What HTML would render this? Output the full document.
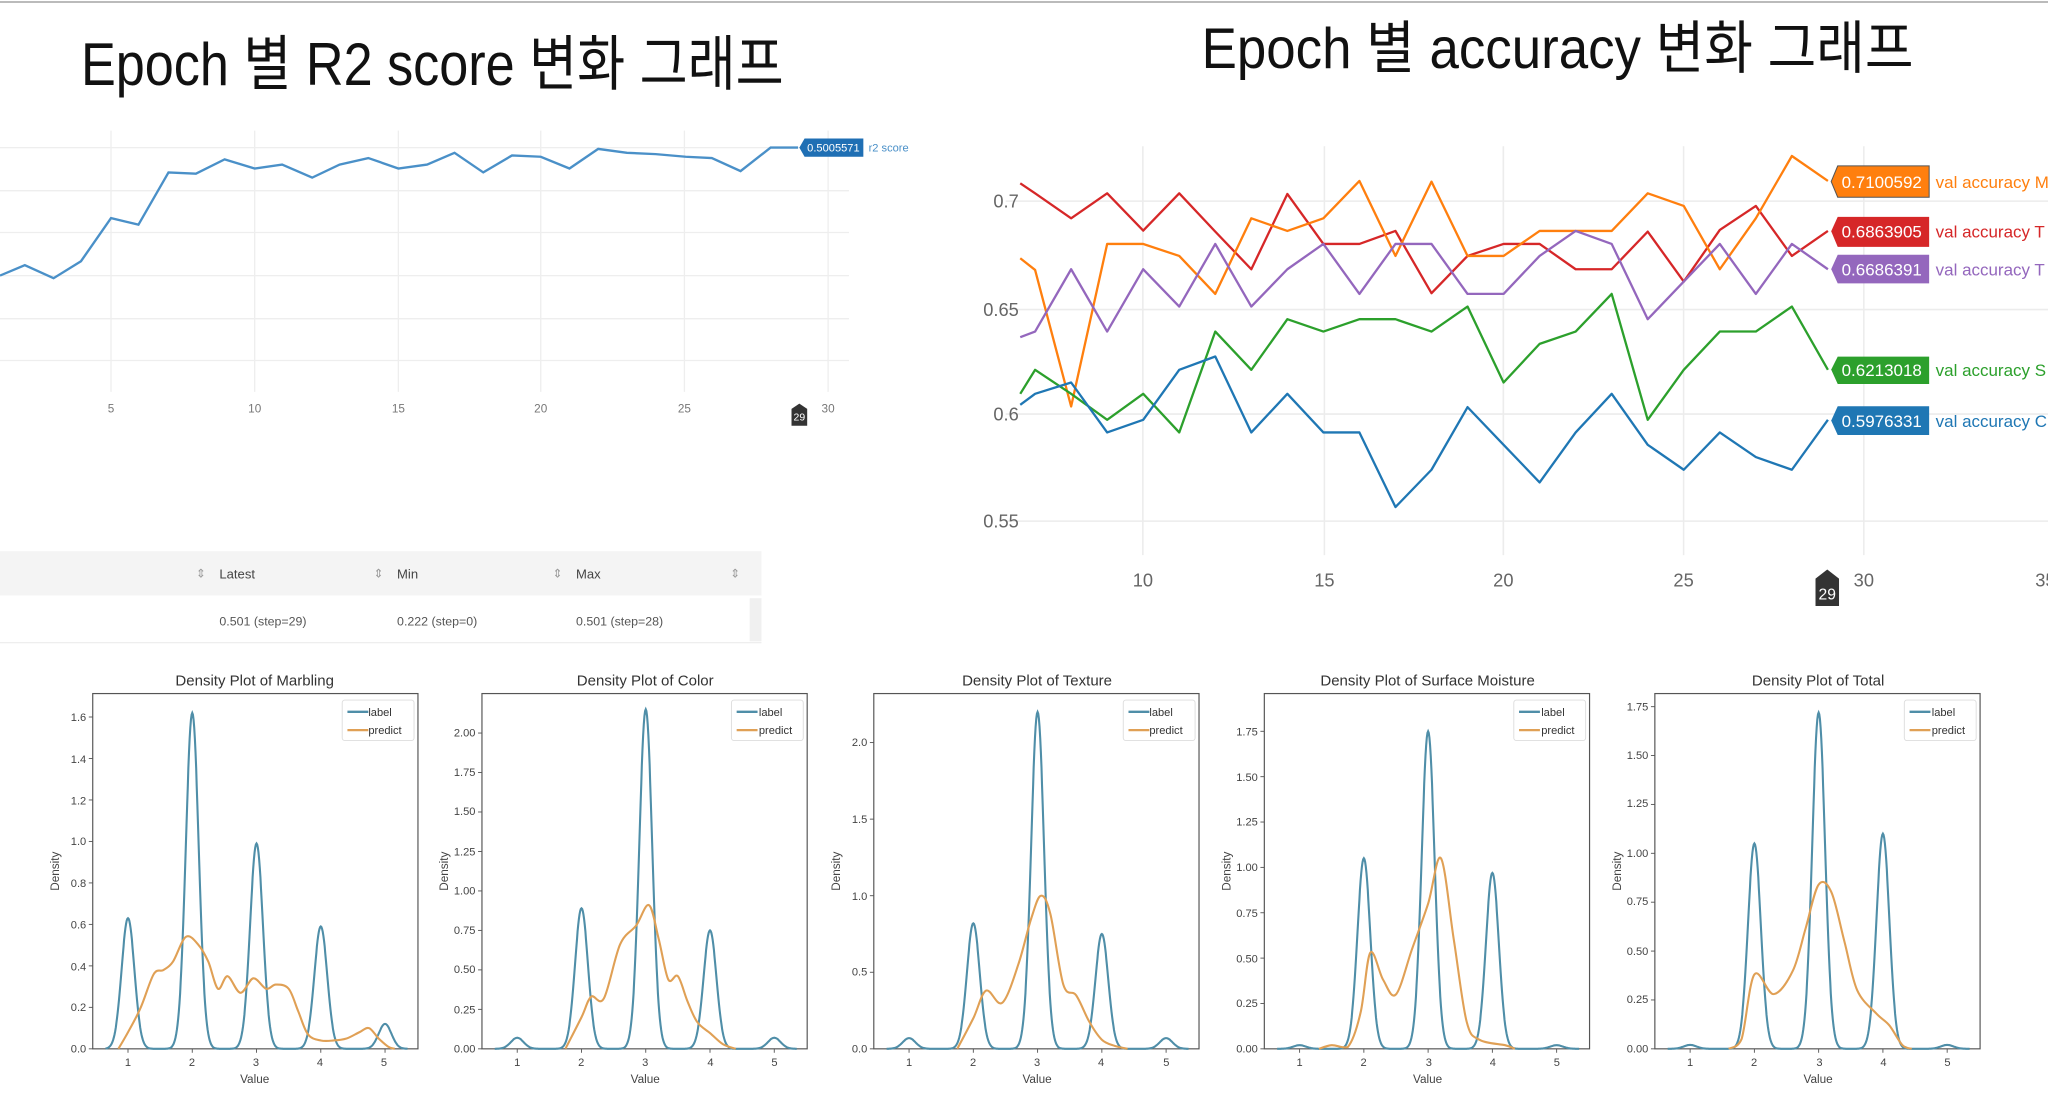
<!DOCTYPE html>
<html><head><meta charset="utf-8"><style>
html,body{margin:0;padding:0;background:#fff;}
svg{display:block;}
text{font-family:"Liberation Sans","Noto Sans CJK KR",sans-serif;}
</style></head><body>
<svg id="s" width="2048" height="1105" viewBox="0 0 1568 846" preserveAspectRatio="none" xmlns="http://www.w3.org/2000/svg">
<line x1="0" y1="1.5" x2="1568" y2="1.5" stroke="#bbb" stroke-width="1.5"/>
<text x="62" y="65" font-size="46" textLength="538" lengthAdjust="spacingAndGlyphs" fill="#111">Epoch 별 R2 score 변화 그래프</text>
<text x="920" y="52" font-size="44" textLength="545" lengthAdjust="spacingAndGlyphs" fill="#111">Epoch 별 accuracy 변화 그래프</text>

<!-- R2 chart -->
<g stroke="#eee" stroke-width="1">
<line x1="0" y1="113" x2="650" y2="113"/><line x1="0" y1="146" x2="650" y2="146"/><line x1="0" y1="178" x2="650" y2="178"/><line x1="0" y1="211" x2="650" y2="211"/><line x1="0" y1="244" x2="650" y2="244"/><line x1="0" y1="276" x2="650" y2="276"/>
<line x1="85" y1="100" x2="85" y2="300"/><line x1="195" y1="100" x2="195" y2="300"/><line x1="305" y1="100" x2="305" y2="300"/><line x1="414" y1="100" x2="414" y2="300"/><line x1="524" y1="100" x2="524" y2="300"/><line x1="634" y1="100" x2="634" y2="300"/>
</g>
<polyline fill="none" stroke="#4a90c8" stroke-width="1.8" points="0,211 19,203 41,213 62,200 85,167 106,172 129,132 150,133 172,122 195,129 216,126 239,136 260,126 282,121 305,129 327,126 348,117 370,132 392,119 414,120 436,129 458,114 480,117 502,118 525,120 545,121 567,131 590,113 611,113"/>
<polygon points="612,113 616,106 661,106 661,120 616,120" fill="#1f6fb4"/>
<text x="618" y="116" font-size="8.5" fill="#fff">0.5005571</text>
<text x="665" y="116" font-size="8.5" fill="#4a90c8">r2 score</text>
<g font-size="9" fill="#777" text-anchor="middle">
<text x="85" y="316">5</text><text x="195" y="316">10</text><text x="305" y="316">15</text><text x="414" y="316">20</text><text x="524" y="316">25</text><text x="634" y="316">30</text>
</g>
<polygon points="612,309 618,313 618,326 606,326 606,313" fill="#333"/>
<text x="612" y="322" font-size="8" fill="#fff" text-anchor="middle">29</text>

<!-- table -->
<rect x="0" y="422" width="583" height="34" fill="#f4f4f4"/>
<rect x="0" y="456" width="583" height="36" fill="#fff"/>
<line x1="0" y1="492" x2="583" y2="492" stroke="#eee"/>
<g font-size="10" fill="#444">
<text x="168" y="443">Latest</text><text x="304" y="443">Min</text><text x="441" y="443">Max</text>
</g>
<g font-size="9" fill="#999"><text x="150" y="442">⇕</text><text x="286" y="442">⇕</text><text x="423" y="442">⇕</text><text x="559" y="442">⇕</text></g>
<g font-size="9.5" fill="#555">
<text x="168" y="479">0.501 (step=29)</text><text x="304" y="479">0.222 (step=0)</text><text x="441" y="479">0.501 (step=28)</text>
</g>
<rect x="574" y="458" width="9" height="33" fill="#f0f0f0"/>

<!-- accuracy chart -->
<g stroke="#ececec" stroke-width="1.2">
<line x1="770" y1="154" x2="1568" y2="154"/><line x1="770" y1="237" x2="1568" y2="237"/><line x1="770" y1="317" x2="1568" y2="317"/><line x1="770" y1="399" x2="1568" y2="399"/>
<line x1="875" y1="112" x2="875" y2="425"/><line x1="1014" y1="112" x2="1014" y2="425"/><line x1="1151" y1="112" x2="1151" y2="425"/><line x1="1289" y1="112" x2="1289" y2="425"/><line x1="1427" y1="112" x2="1427" y2="425"/>
</g>
<g font-size="14" fill="#666" text-anchor="end">
<text x="780" y="159">0.7</text><text x="780" y="242">0.65</text><text x="780" y="322">0.6</text><text x="780" y="404">0.55</text>
</g>
<g font-size="14" fill="#666" text-anchor="middle">
<text x="875" y="449">10</text><text x="1014" y="449">15</text><text x="1151" y="449">20</text><text x="1289" y="449">25</text><text x="1427" y="449">30</text><text x="1566" y="449">35</text>
</g>
<polygon points="1399,436 1408,443 1408,464 1390,464 1390,443" fill="#333"/>
<text x="1399" y="459" font-size="12" fill="#fff" text-anchor="middle">29</text>
<g transform="translate(720,76.6) scale(0.541,0.255)" fill="none" stroke-width="2.3" stroke-linejoin="round">
<polyline vector-effect="non-scaling-stroke" stroke="#d62728" points="113,250 134,280 185,355 236,280 287,392 338,280 389,395 440,508 491,282 542,432 593,432 644,393 695,580 746,468 797,432 848,432 899,508 950,508 1001,395 1052,545 1103,390 1154,318 1205,468 1256,393"/>
<polyline vector-effect="non-scaling-stroke" stroke="#ff7f0e" points="113,475 134,510 185,920 236,432 287,432 338,468 389,582 440,355 491,393 542,355 593,243 644,468 695,245 746,468 797,468 848,393 899,393 950,393 1001,280 1052,318 1103,508 1154,355 1205,168 1256,243"/>
<polyline vector-effect="non-scaling-stroke" stroke="#9467bd" points="113,712 134,695 185,508 236,695 287,508 338,620 389,432 440,620 491,508 542,432 593,582 644,432 695,432 746,582 797,582 848,468 899,393 950,432 1001,658 1052,545 1103,432 1154,582 1205,432 1256,508"/>
<polyline vector-effect="non-scaling-stroke" stroke="#2ca02c" points="113,882 134,810 185,882 236,960 287,882 338,998 389,695 440,810 491,658 542,695 593,658 644,658 695,695 746,620 797,848 848,732 899,695 950,582 1001,960 1052,810 1103,695 1154,695 1205,620 1256,810"/>
<polyline vector-effect="non-scaling-stroke" stroke="#1f77b4" points="113,915 134,882 185,848 236,998 287,960 338,810 389,770 440,998 491,882 542,998 593,998 644,1222 695,1110 746,922 797,1035 848,1148 899,998 950,882 1001,1035 1052,1110 1103,998 1154,1072 1205,1110 1256,960"/>
</g>
<g font-size="13">
<polygon points="1402,139 1407,127 1477,127 1477,151 1407,151" fill="#ff7f0e" stroke="#555" stroke-width="0.8"/>
<text x="1410" y="144" fill="#fff" font-size="13">0.7100592</text><text x="1482" y="144" fill="#ff7f0e">val accuracy M</text>
<polygon points="1402,177 1407,166 1477,166 1477,189 1407,189" fill="#d62728"/>
<text x="1410" y="182" fill="#fff">0.6863905</text><text x="1482" y="182" fill="#d62728">val accuracy T</text>
<polygon points="1402,206 1407,195 1477,195 1477,217 1407,217" fill="#9467bd"/>
<text x="1410" y="211" fill="#fff">0.6686391</text><text x="1482" y="211" fill="#9467bd">val accuracy T</text>
<polygon points="1402,283 1407,273 1477,273 1477,294 1407,294" fill="#2ca02c"/>
<text x="1410" y="288" fill="#fff">0.6213018</text><text x="1482" y="288" fill="#2ca02c">val accuracy S</text>
<polygon points="1402,322 1407,311 1477,311 1477,333 1407,333" fill="#1f77b4"/>
<text x="1410" y="327" fill="#fff">0.5976331</text><text x="1482" y="327" fill="#1f77b4">val accuracy C</text>
</g>

<!-- density panels -->
<g id="dens"></g>
<g font-size="11.5" fill="#333" text-anchor="middle">
<text x="195" y="525">Density Plot of Marbling</text>
<text x="494" y="525">Density Plot of Color</text>
<text x="794" y="525">Density Plot of Texture</text>
<text x="1093" y="525">Density Plot of Surface Moisture</text>
<text x="1392" y="525">Density Plot of Total</text>
</g>
<g font-size="9" fill="#444" text-anchor="middle">
<text x="195" y="829">Value</text><text x="494" y="829">Value</text><text x="794" y="829">Value</text><text x="1093" y="829">Value</text><text x="1392" y="829">Value</text>
<text transform="translate(45,667) rotate(-90)">Density</text>
<text transform="translate(343,667) rotate(-90)">Density</text>
<text transform="translate(643,667) rotate(-90)">Density</text>
<text transform="translate(942,667) rotate(-90)">Density</text>
<text transform="translate(1241,667) rotate(-90)">Density</text>
</g>
<g font-size="8.5" fill="#444">
<g text-anchor="middle" id="xt">
<text x="98" y="816">1</text><text x="147" y="816">2</text><text x="196" y="816">3</text><text x="245" y="816">4</text><text x="294" y="816">5</text>
<text x="396" y="816">1</text><text x="445" y="816">2</text><text x="494" y="816">3</text><text x="544" y="816">4</text><text x="593" y="816">5</text>
<text x="696" y="816">1</text><text x="745" y="816">2</text><text x="794" y="816">3</text><text x="843" y="816">4</text><text x="893" y="816">5</text>
<text x="995" y="816">1</text><text x="1044" y="816">2</text><text x="1094" y="816">3</text><text x="1143" y="816">4</text><text x="1192" y="816">5</text>
<text x="1294" y="816">1</text><text x="1343" y="816">2</text><text x="1393" y="816">3</text><text x="1442" y="816">4</text><text x="1491" y="816">5</text>
</g>
<g text-anchor="end">
<text x="66" y="806">0.0</text><text x="66" y="774">0.2</text><text x="66" y="743">0.4</text><text x="66" y="711">0.6</text><text x="66" y="679">0.8</text><text x="66" y="647">1.0</text><text x="66" y="616">1.2</text><text x="66" y="584">1.4</text><text x="66" y="552">1.6</text>
<text x="364" y="806">0.00</text><text x="364" y="776">0.25</text><text x="364" y="745">0.50</text><text x="364" y="715">0.75</text><text x="364" y="685">1.00</text><text x="364" y="655">1.25</text><text x="364" y="624">1.50</text><text x="364" y="594">1.75</text><text x="364" y="564">2.00</text>
<text x="664" y="806">0.0</text><text x="664" y="747">0.5</text><text x="664" y="689">1.0</text><text x="664" y="630">1.5</text><text x="664" y="571">2.0</text>
<text x="963" y="806">0.00</text><text x="963" y="771">0.25</text><text x="963" y="737">0.50</text><text x="963" y="702">0.75</text><text x="963" y="667">1.00</text><text x="963" y="632">1.25</text><text x="963" y="598">1.50</text><text x="963" y="563">1.75</text>
<text x="1262" y="806">0.00</text><text x="1262" y="768">0.25</text><text x="1262" y="731">0.50</text><text x="1262" y="693">0.75</text><text x="1262" y="656">1.00</text><text x="1262" y="618">1.25</text><text x="1262" y="581">1.50</text><text x="1262" y="544">1.75</text>
</g>
</g>
<g font-size="8.5" fill="#333" id="legs">
<text x="282" y="548">label</text><text x="282" y="562">predict</text>
<text x="581" y="548">label</text><text x="581" y="562">predict</text>
<text x="880" y="548">label</text><text x="880" y="562">predict</text>
<text x="1180" y="548">label</text><text x="1180" y="562">predict</text>
<text x="1479" y="548">label</text><text x="1479" y="562">predict</text>
</g>
</svg>
<script>
(function(){
var NS="http://www.w3.org/2000/svg",g=document.getElementById("dens");
function el(n,a){var e=document.createElementNS(NS,n);for(var k in a)e.setAttribute(k,a[k]);g.appendChild(e);return e;}
var panels=[
{L:71,ymax:1.713,ticks:[0,0.2,0.4,0.6,0.8,1.0,1.2,1.4,1.6],lab:[0.63,1.62,0.99,0.59,0.12],
 pr:[[0.85,0],[1.0,0.08],[1.2,0.2],[1.4,0.36],[1.55,0.38],[1.7,0.42],[1.9,0.54],[2.1,0.5],[2.25,0.42],[2.4,0.29],[2.55,0.35],[2.75,0.27],[2.95,0.34],[3.15,0.29],[3.3,0.31],[3.5,0.29],[3.65,0.18],[3.8,0.07],[4.0,0.04],[4.2,0.04],[4.4,0.05],[4.6,0.08],[4.75,0.1],[4.9,0.05],[5.05,0.01],[5.15,0]]},
{L:369,ymax:2.25,ticks:[0,0.25,0.5,0.75,1,1.25,1.5,1.75,2],lab:[0.07,0.89,2.15,0.75,0.07],
 pr:[[1.75,0],[2.0,0.2],[2.15,0.33],[2.35,0.32],[2.6,0.66],[2.85,0.78],[3.05,0.91],[3.2,0.7],[3.35,0.44],[3.5,0.46],[3.65,0.3],[3.8,0.17],[4.0,0.1],[4.2,0.03],[4.4,0]]},
{L:669,ymax:2.32,ticks:[0,0.5,1,1.5,2],lab:[0.07,0.82,2.2,0.75,0.07],
 pr:[[1.75,0],[2.0,0.2],[2.2,0.38],[2.45,0.3],[2.7,0.55],[2.9,0.85],[3.05,1.0],[3.2,0.88],[3.4,0.42],[3.6,0.35],[3.8,0.18],[4.0,0.06],[4.2,0.02],[4.4,0]]},
{L:968,ymax:1.958,ticks:[0,0.25,0.5,0.75,1,1.25,1.5,1.75],lab:[0.02,1.05,1.75,0.97,0.02],
 pr:[[1.3,0],[1.5,0.02],[1.75,0.01],[1.95,0.2],[2.1,0.53],[2.3,0.38],[2.5,0.3],[2.75,0.55],[3.0,0.8],[3.2,1.05],[3.4,0.6],[3.6,0.15],[3.8,0.05],[4.2,0.02],[4.35,0]]},
{L:1267,ymax:1.817,ticks:[0,0.25,0.5,0.75,1,1.25,1.5,1.75],lab:[0.02,1.05,1.72,1.1,0.02],
 pr:[[1.6,0],[1.8,0.05],[2.0,0.38],[2.3,0.28],[2.6,0.4],[2.8,0.62],[3.0,0.84],[3.2,0.8],[3.4,0.55],[3.6,0.3],[3.9,0.18],[4.1,0.12],[4.3,0.02],[4.45,0]]}
];
panels.forEach(function(p){
 var L=p.L,T=531,B=803,W=249,sx=49.2,sy=272/p.ymax;
 function X(x){return L+27+(x-1)*sx;} function Y(y){return B-y*sy;}
 el("rect",{x:L,y:T,width:W,height:B-T,fill:"none",stroke:"#555","stroke-width":0.9});
 for(var i=1;i<=5;i++)el("line",{x1:X(i),y1:B,x2:X(i),y2:B+3,stroke:"#555","stroke-width":0.7});
 p.ticks.forEach(function(t){el("line",{x1:L-3,y1:Y(t),x2:L,y2:Y(t),stroke:"#555","stroke-width":0.7});});
 var d="";for(var x=0.65;x<=5.35;x+=0.01){var y=0;for(var k=0;k<5;k++){var dx=(x-(k+1))/0.1;y+=p.lab[k]*Math.exp(-0.5*dx*dx);}d+=(d?"L":"M")+X(x).toFixed(1)+","+Y(y).toFixed(1);}
 var pts=p.pr.map(function(q){return [X(q[0]),Y(q[1])];});
 var c="M"+pts[0][0]+","+pts[0][1];
 for(var i=0;i<pts.length-1;i++){var p0=pts[Math.max(0,i-1)],p1=pts[i],p2=pts[i+1],p3=pts[Math.min(pts.length-1,i+2)];
  c+="C"+(p1[0]+(p2[0]-p0[0])/6).toFixed(1)+","+Math.min(B,p1[1]+(p2[1]-p0[1])/6).toFixed(1)+" "+(p2[0]-(p3[0]-p1[0])/6).toFixed(1)+","+Math.min(B,p2[1]-(p3[1]-p1[1])/6).toFixed(1)+" "+p2[0].toFixed(1)+","+p2[1].toFixed(1);}
 el("path",{d:d,fill:"none",stroke:"#4f8ea8","stroke-width":1.6});
 el("path",{d:c,fill:"none",stroke:"#e0a055","stroke-width":1.6});
 var lx=L+W-58,ly=T+5;
 el("rect",{x:lx,y:ly,width:55,height:31,fill:"#fff",stroke:"#ddd","stroke-width":0.7,rx:2});
 el("line",{x1:lx+4,y1:ly+9,x2:lx+20,y2:ly+9,stroke:"#4f8ea8","stroke-width":1.8});
 el("line",{x1:lx+4,y1:ly+23,x2:lx+20,y2:ly+23,stroke:"#e0a055","stroke-width":1.8});
});
document.getElementById("s").appendChild(document.getElementById("legs"));
})();
</script>
</body></html>
